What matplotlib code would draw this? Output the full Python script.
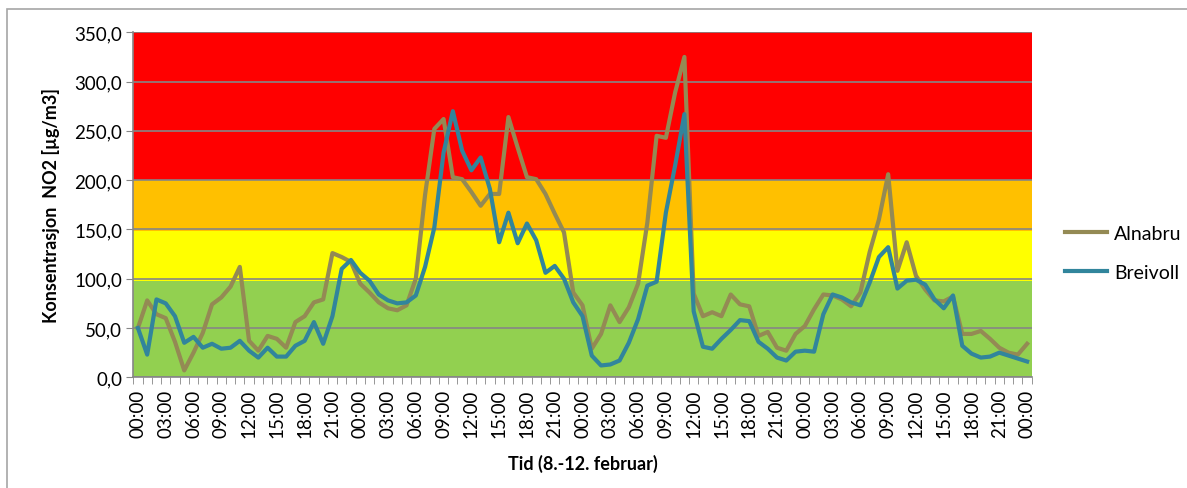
import numpy as np
import matplotlib.pyplot as plt
from matplotlib.patches import Rectangle
from matplotlib.ticker import FuncFormatter, FixedLocator

plt.rcParams['font.family'] = ['Lato', 'DejaVu Sans']

# hourly values 8. feb 00:00 -> 12. feb 00:00
alnabru = [50, 78, 64, 60, 36, 7, 25, 45, 74, 81, 92, 112, 37, 27, 42, 39, 30, 56,
           62, 76, 79, 126, 122, 117, 95, 86, 76, 70, 68, 73, 100, 185, 252, 262,
           203, 201, 188, 174, 186, 186, 264, 233, 203, 201, 186, 166, 147, 86,
           73, 29, 44, 73, 56, 71, 95, 157, 245, 243, 289, 325, 85, 62, 66, 62,
           84, 74, 72, 42, 46, 30, 27, 44, 52, 69, 84, 83, 79, 72, 86, 127, 160,
           206, 108, 137, 103, 89, 78, 77, 82, 44, 44, 47, 39, 30, 25, 23, 34]
breivoll = [50, 23, 79, 75, 62, 35, 41, 30, 34, 29, 30, 37, 27, 20, 30, 21, 21, 32,
            37, 56, 34, 62, 110, 119, 106, 98, 84, 78, 75, 76, 83, 112, 152, 228,
            270, 230, 210, 223, 191, 137, 167, 136, 156, 139, 106, 113, 100, 76,
            62, 22, 12, 13, 17, 35, 59, 93, 97, 167, 215, 267, 67, 31, 29, 39, 48,
            58, 57, 36, 29, 20, 17, 26, 27, 26, 64, 84, 81, 76, 73, 96, 122, 132,
            90, 98, 99, 94, 79, 70, 83, 32, 24, 20, 21, 25, 22, 19, 16]
hour_labels = ['00:00', '03:00', '06:00', '09:00', '12:00', '15:00', '18:00', '21:00']

# background zones
band_limits = [0, 98, 148, 200, 350]
band_colors = ['#92D050', '#FFFF00', '#FFC000', '#FF0000']

fig = plt.figure(figsize=(11.87, 4.89), dpi=100)
ax = fig.add_axes([0.1123, 0.2264, 0.7569, 0.7055])

for lo, hi, c in zip(band_limits[:-1], band_limits[1:], band_colors):
    ax.axhspan(lo, hi, color=c, zorder=0, lw=0)

x = np.arange(len(alnabru))
ax.plot(x, alnabru, color='#948A54', lw=3, label='Alnabru', zorder=3,
        solid_joinstyle='round')
ax.plot(x, breivoll, color='#31859C', lw=3, label='Breivoll', zorder=4,
        solid_joinstyle='round')

ax.set_xlim(-0.5, len(x) - 0.5)
ax.set_ylim(0, 350)
ax.set_yticks(np.arange(0, 351, 50))
ax.yaxis.set_major_formatter(FuncFormatter(lambda v, p: f'{v:.1f}'.replace('.', ',')))
ax.grid(axis='y', color='#868686', lw=1.2, zorder=1)
ax.set_axisbelow(False)

label_pos = x[::3]
ax.set_xticks(label_pos)
ax.set_xticklabels([hour_labels[i % 8] for i in range(len(label_pos))], rotation=90)
ax.xaxis.set_minor_locator(FixedLocator(np.arange(-0.5, len(x), 1)))
ax.tick_params(axis='x', which='major', length=0, pad=8, labelsize=13.5)
ax.tick_params(axis='x', which='minor', length=5, color='#868686')
ax.tick_params(axis='y', length=5, color='#868686', labelsize=13.5, pad=3)

for s in ['top', 'right']:
    ax.spines[s].set_visible(False)
for s in ['left', 'bottom']:
    ax.spines[s].set_color('#868686')
    ax.spines[s].set_linewidth(1.2)
    ax.spines[s].set_zorder(5)

ax.set_ylabel('Konsentrasjon  NO2 [µg/m3]', fontsize=13, fontweight='bold', labelpad=10)
ax.set_xlabel('Tid (8.-12. februar)', fontsize=13, fontweight='bold', labelpad=12)

ax.legend(loc='center left', bbox_to_anchor=(1.017, 0.36), frameon=False,
          fontsize=14, handlelength=2.2, handletextpad=0.35, labelspacing=1.15)

fig.patches.append(Rectangle((7 / 1187, -0.05), 1.1, 1.05 - 10 / 489,
                             transform=fig.transFigure, fill=False,
                             edgecolor='#A6A6A6', lw=1.2))

fig.savefig('out.png', dpi=100)
